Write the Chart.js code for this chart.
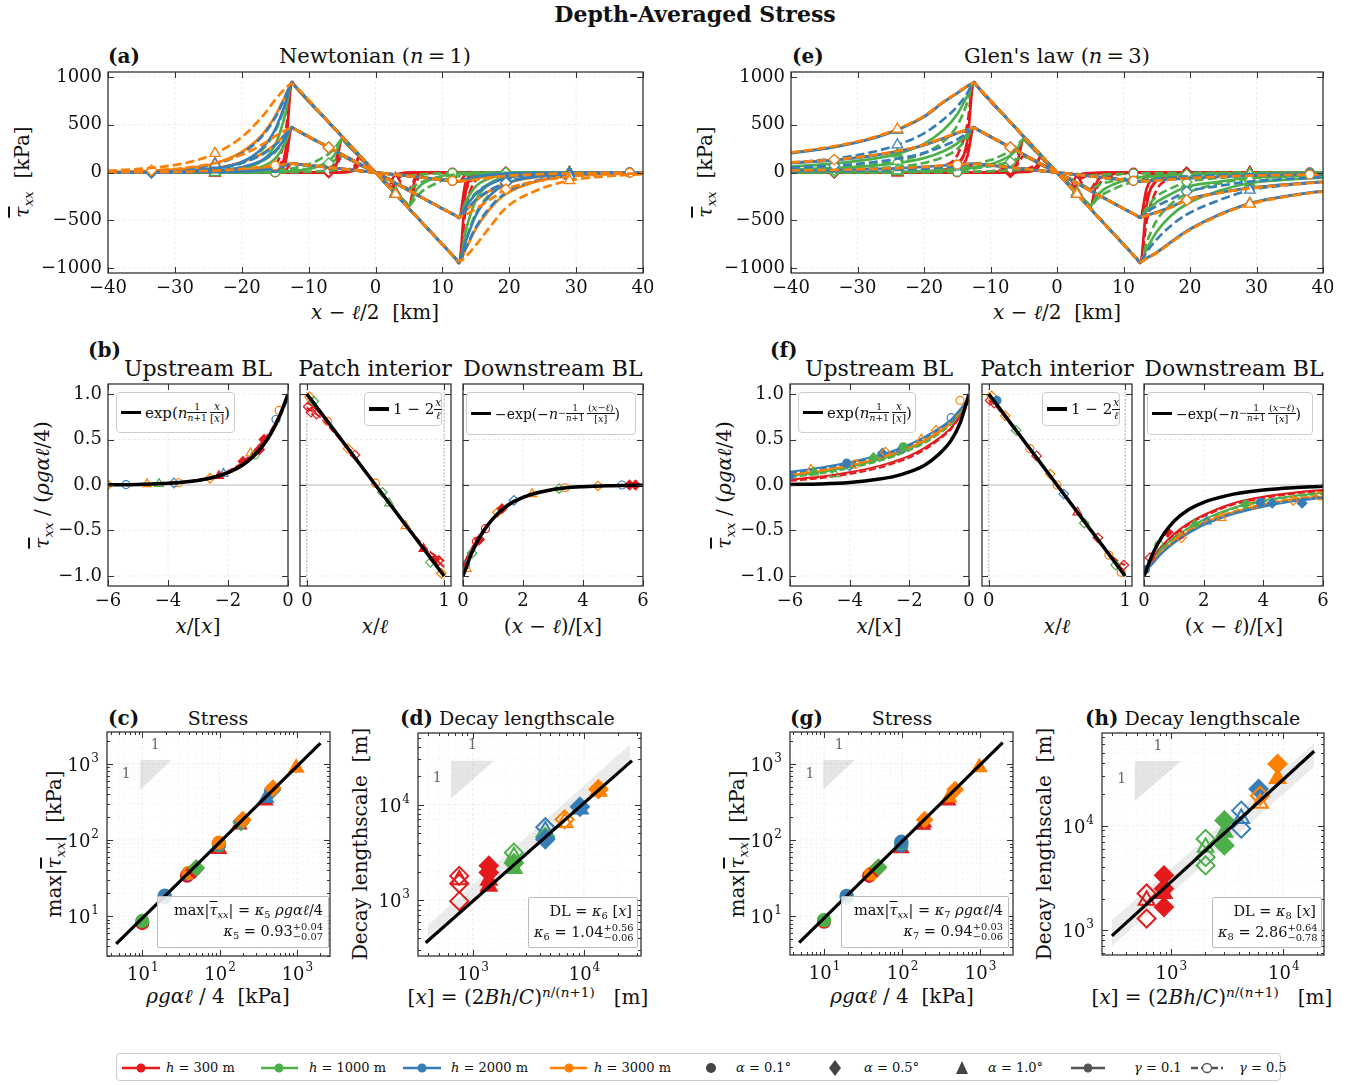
<!DOCTYPE html>
<html>
<head>
<meta charset="utf-8">
<title>Depth-Averaged Stress</title>
<script src="https://cdn.jsdelivr.net/npm/chart.js@4.4.1/dist/chart.umd.min.js"></script>
<style>
  body { margin: 0; background: #fff; }
  #fig { position: relative; width: 1348px; height: 1085px; overflow: hidden; font-family: 'DejaVu Serif', serif; color: #111; }
  canvas { position: absolute; }
  .t { position: absolute; white-space: nowrap; transform: translate(-50%, -50%); line-height: 1; }
  .tl { position: absolute; white-space: nowrap; transform: translateY(-50%); line-height: 1; }
  .rot { transform: translate(-50%, -50%) rotate(-90deg); }
  .pl { font-weight: bold; font-size: 20px; }
  .ttl { font-size: 21px; }
  .sub { font-size: 22px; }
  .lab { font-size: 20px; }
  .ov { text-decoration: overline; }
  sub { font-size: 0.68em; vertical-align: -0.3em; line-height: 0; }
  sup { font-size: 0.68em; vertical-align: 0.5em; line-height: 0; }
  .fr { display: inline-flex; flex-direction: column; vertical-align: middle; text-align: center; line-height: 1.05; font-size: 0.7em; }
  sup .fr { font-size: 0.9em; }
  .fr > span:first-child { border-bottom: 1px solid currentColor; padding: 0 1px; }
  .leg { position: absolute; background: #fff; border: 1px solid #ccc; border-radius: 4px; font-size: 15px; display: flex; align-items: center; padding: 0 4px; box-sizing: border-box; white-space: nowrap; }
  .leg .ln { display: inline-block; width: 20px; height: 3.5px; background: #000; margin-right: 4px; flex: none; }
  .fitbox { position: absolute; background: rgba(255,255,255,0.85); border: 1px solid #bbb; border-radius: 2px; font-size: 14.5px; text-align: right; padding: 3px 5px; box-sizing: border-box; line-height: 1.45; white-space: nowrap; }
  .ss { display: inline-flex; flex-direction: column; vertical-align: middle; font-size: 0.68em; line-height: 1.0; text-align: left; }
  #legend { position: absolute; left: 116px; top: 1053px; width: 1165px; height: 28px; border: 1px solid #ccc; border-radius: 4px; box-sizing: border-box; }
  .lt { position: absolute; top: 1067px; transform: translateY(-50%); font-size: 13px; white-space: nowrap; line-height: 1; }
</style>
</head>
<body>
<div id="fig">
  <div class="t" style="left:695px;top:14px;font-weight:bold;font-size:22px">Depth-Averaged Stress</div>

  <!-- (a) / (e) -->
  <div class="tl pl" style="left:108px;top:56px">(a)</div>
  <div class="t ttl" style="left:375px;top:56px">Newtonian (<i>n</i>&#8201;=&#8201;1)</div>
  <div class="t lab rot" style="left:22px;top:172px"><i class="ov">τ</i><sub><i>xx</i></sub>&nbsp;&nbsp;[kPa]</div>
  <div class="t lab" style="left:375px;top:312px"><i>x</i> − <i>ℓ</i>/2&nbsp;&nbsp;[km]</div>

  <div class="tl pl" style="left:792px;top:56px">(e)</div>
  <div class="t ttl" style="left:1057px;top:56px">Glen's law (<i>n</i>&#8201;=&#8201;3)</div>
  <div class="t lab rot" style="left:705px;top:172px"><i class="ov">τ</i><sub><i>xx</i></sub>&nbsp;&nbsp;[kPa]</div>
  <div class="t lab" style="left:1057px;top:312px"><i>x</i> − <i>ℓ</i>/2&nbsp;&nbsp;[km]</div>

  <!-- (b) / (f) -->
  <div class="tl pl" style="left:88px;top:350px">(b)</div>
  <div class="t sub" style="left:198px;top:369px">Upstream BL</div>
  <div class="t sub" style="left:375px;top:369px">Patch interior</div>
  <div class="t sub" style="left:553px;top:369px">Downstream BL</div>
  <div class="t lab rot" style="left:42px;top:485px"><i class="ov">τ</i><sub><i>xx</i></sub> / (<i>ρgαℓ</i>/4)</div>
  <div class="t lab" style="left:198px;top:626px"><i>x</i>/[<i>x</i>]</div>
  <div class="t lab" style="left:375px;top:626px"><i>x</i>/<i>ℓ</i></div>
  <div class="t lab" style="left:553px;top:626px">(<i>x</i> − <i>ℓ</i>)/[<i>x</i>]</div>

  <div class="tl pl" style="left:770px;top:350px">(f)</div>
  <div class="t sub" style="left:879px;top:369px">Upstream BL</div>
  <div class="t sub" style="left:1057px;top:369px">Patch interior</div>
  <div class="t sub" style="left:1234px;top:369px">Downstream BL</div>
  <div class="t lab rot" style="left:724px;top:485px"><i class="ov">τ</i><sub><i>xx</i></sub> / (<i>ρgαℓ</i>/4)</div>
  <div class="t lab" style="left:879px;top:626px"><i>x</i>/[<i>x</i>]</div>
  <div class="t lab" style="left:1057px;top:626px"><i>x</i>/<i>ℓ</i></div>
  <div class="t lab" style="left:1234px;top:626px">(<i>x</i> − <i>ℓ</i>)/[<i>x</i>]</div>

  <!-- (c) (d) (g) (h) -->
  <div class="tl pl" style="left:108px;top:718px">(c)</div>
  <div class="t ttl" style="left:218px;top:718px;font-size:19px">Stress</div>
  <div class="tl" style="left:400px;top:718px;font-size:19px"><b style="font-size:20px">(d)</b> Decay lengthscale</div>
  <div class="tl pl" style="left:790px;top:718px">(g)</div>
  <div class="t ttl" style="left:902px;top:718px;font-size:19px">Stress</div>
  <div class="tl" style="left:1085px;top:718px;font-size:19px"><b style="font-size:20px">(h)</b> Decay lengthscale</div>

  <div class="t lab rot" style="left:54px;top:844px">max|<i class="ov">τ</i><sub><i>xx</i></sub>|&nbsp;&nbsp;[kPa]</div>
  <div class="t lab rot" style="left:360px;top:844px">Decay lengthscale&nbsp;&nbsp;[m]</div>
  <div class="t lab rot" style="left:737px;top:844px">max|<i class="ov">τ</i><sub><i>xx</i></sub>|&nbsp;&nbsp;[kPa]</div>
  <div class="t lab rot" style="left:1044px;top:844px">Decay lengthscale&nbsp;&nbsp;[m]</div>

  <div class="t lab" style="left:218px;top:996px"><i>ρgαℓ</i> / 4&nbsp;&nbsp;[kPa]</div>
  <div class="t lab" style="left:528px;top:997px">[<i>x</i>] = (2<i>Bh</i>/<i>C</i>)<sup><i>n</i>/(<i>n</i>+1)</sup>&nbsp;&nbsp;&nbsp;[m]</div>
  <div class="t lab" style="left:902px;top:996px"><i>ρgαℓ</i> / 4&nbsp;&nbsp;[kPa]</div>
  <div class="t lab" style="left:1212px;top:997px">[<i>x</i>] = (2<i>Bh</i>/<i>C</i>)<sup><i>n</i>/(<i>n</i>+1)</sup>&nbsp;&nbsp;&nbsp;[m]</div>
</div>

<script>
// ─── COLOURS / MARKERS ───────────────────────────────
const COL = { r: '#e41a1c', g: '#4daf4a', b: '#377eb8', o: '#ff7f00' };
const SHAPE = { c: 'circle', d: 'rectRot', t: 'triangle' };
const drawOrder = ['RS', 'RD', 'GS', 'GD', 'OS', 'BS', 'BD', 'OD'];   // bottom → top

// ─── TICKS ───────────────────────────────────────────
const aXTicks = [-40, -30, -20, -10, 0, 10, 20, 30, 40];
const aYTicks = [-1000, -500, 0, 500, 1000];
const bYTicks = [-1, -0.5, 0, 0.5, 1];
const upXTicks = [-6, -4, -2, 0];
const inXTicks = [0, 1];
const dnXTicks = [0, 2, 4, 6];

// ─── (a)/(e) STRESS PROFILES, x − ℓ/2 [km] ───────────
const x25 = [-40, -33.5, -28, -24, -20, -17, -15, -13.5, -12.5, -12, -7, 3, 11.5, 12, 12.5, 13.5, 15, 17, 19.5, 24, 29, 33.5, 38, 40];
const x10 = [-40, -33.5, -24, -15, -10, -8, -7, -6, -5, -4.6, 3, 4.6, 5, 6, 7, 8, 10, 11.5, 19.5, 29, 38, 40];
const x5 = [-40, -33.5, -24, -15, -7, -5, -4, -3, -2.5, -2.2, 2.2, 2.5, 3, 4, 5, 7, 11.5, 19.5, 29, 38, 40];
const markA1 = [-24, 3, 29];
const markA05 = [-33.5, -7, 19.5];
const markA01 = [-15, 11.5, 38];
const keys8 = ['OD', 'OS', 'BD', 'BS', 'GD', 'GS', 'RD', 'RS'];

// Newtonian (a)
const a25_a1 = [
  [18, 48, 105, 200, 370, 580, 760, 880, 928, 902, 526, -226, -865, -902, -928, -880, -760, -580, -370, -190, -85, -45, -24, -18],
  [6, 17, 44, 95, 215, 390, 590, 800, 935, 902, 526, -226, -865, -902, -935, -800, -590, -390, -225, -95, -38, -17, -8, -6],
  [5, 14, 38, 88, 200, 375, 575, 790, 935, 902, 526, -226, -865, -902, -935, -790, -575, -375, -212, -88, -34, -14, -6, -5],
  [2, 5, 15, 40, 110, 250, 450, 720, 940, 902, 526, -226, -865, -902, -940, -720, -450, -250, -120, -40, -12, -5, -2, -2],
  [1, 4, 13, 35, 100, 235, 430, 705, 945, 902, 526, -226, -865, -902, -945, -705, -430, -235, -110, -35, -10, -4, -1, -1],
  [0, 1, 4, 12, 40, 120, 290, 610, 945, 902, 526, -226, -865, -902, -945, -610, -290, -120, -48, -12, -3, -1, 0, 0],
  [0, 0, 0, 0, 3, 15, 80, 380, 950, 902, 526, -226, -865, -902, -950, -380, -80, -15, -4, 0, 0, 0, 0, 0],
  [0, 0, 0, 0, 0, 4, 25, 200, 950, 902, 526, -226, -865, -902, -950, -200, -25, -4, 0, 0, 0, 0, 0, 0]
];
const a25_a05 = [
  [9, 24, 52, 100, 185, 290, 380, 440, 464, 451, 263, -113, -433, -451, -464, -440, -380, -290, -175, -95, -42, -22, -12, -9],
  [3, 9, 22, 48, 108, 195, 295, 400, 468, 451, 263, -113, -433, -451, -468, -400, -295, -195, -112, -48, -19, -9, -4, -3],
  [3, 7, 19, 44, 100, 188, 288, 395, 468, 451, 263, -113, -433, -451, -468, -395, -288, -188, -106, -44, -17, -7, -3, -3],
  [1, 3, 8, 20, 55, 125, 225, 360, 470, 451, 263, -113, -433, -451, -470, -360, -225, -125, -60, -20, -6, -3, -1, -1],
  [1, 2, 7, 18, 50, 118, 215, 352, 472, 451, 263, -113, -433, -451, -472, -352, -215, -118, -55, -18, -5, -2, -1, -1],
  [0, 1, 2, 6, 20, 60, 145, 305, 472, 451, 263, -113, -433, -451, -472, -305, -145, -60, -24, -6, -2, -1, 0, 0],
  [0, 0, 0, 0, 2, 8, 40, 190, 475, 451, 263, -113, -433, -451, -475, -190, -40, -8, -2, 0, 0, 0, 0, 0],
  [0, 0, 0, 0, 0, 2, 12, 100, 475, 451, 263, -113, -433, -451, -475, -100, -12, -2, 0, 0, 0, 0, 0, 0]
];
const a25_a01_keys = ['OD', 'OS', 'BS', 'GD', 'RS'];
const a25_a01 = [
  [2, 5, 10, 20, 37, 58, 72, 86, 92, 90, 53, -23, -87, -90, -92, -86, -74, -58, -36, -19, -9, -5, -2, -2],
  [1, 2, 4, 10, 22, 39, 59, 80, 94, 90, 53, -23, -87, -90, -94, -80, -59, -39, -22, -10, -4, -2, -1, -1],
  [0, 1, 2, 4, 11, 25, 45, 72, 94, 90, 53, -23, -87, -90, -94, -72, -45, -25, -12, -4, -1, 0, 0, 0],
  [0, 0, 1, 3, 10, 23, 43, 70, 94, 90, 53, -23, -87, -90, -94, -70, -43, -23, -11, -3, -1, 0, 0, 0],
  [0, 0, 0, 0, 0, 0, 3, 20, 95, 90, 53, -23, -87, -90, -95, -20, -3, 0, 0, 0, 0, 0, 0, 0]
];
const a10_a1_keys = ['GD', 'GS', 'RD', 'RS'];
const a10_a1 = [
  [0, 0, 1, 20, 85, 150, 195, 265, 345, 322, -210, -322, -345, -265, -195, -150, -85, -50, -4, 0, 0, 0],
  [0, 0, 0, 5, 35, 80, 120, 195, 348, 322, -210, -322, -348, -195, -120, -80, -35, -15, 0, 0, 0, 0],
  [0, 0, 0, 0, 1, 8, 25, 110, 350, 322, -210, -322, -350, -110, -25, -8, -1, 0, 0, 0, 0, 0],
  [0, 0, 0, 0, 0, 2, 8, 50, 352, 322, -210, -322, -352, -50, -8, -2, 0, 0, 0, 0, 0, 0]
];
const a10_a05_keys = ['GD', 'RD'];
const a10_a05 = [
  [0, 0, 0, 10, 42, 75, 98, 132, 173, 161, -105, -161, -173, -132, -98, -75, -42, -25, -2, 0, 0, 0],
  [0, 0, 0, 0, 0, 4, 12, 55, 175, 161, -105, -161, -175, -55, -12, -4, 0, 0, 0, 0, 0, 0]
];
const a10_a01_keys = ['GD', 'RD'];
const a10_a01 = [
  [0, 0, 0, 2, 8, 15, 20, 27, 35, 32, -21, -32, -35, -27, -20, -15, -8, -5, 0, 0, 0, 0],
  [0, 0, 0, 0, 0, 1, 2, 11, 35, 32, -21, -32, -35, -11, -2, -1, 0, 0, 0, 0, 0, 0]
];
const a5_a1_keys = ['RD', 'RS'];
const a5_a1 = [
  [0, 0, 0, 0, 2, 10, 30, 85, 165, 145, -145, -165, -85, -30, -10, -2, 0, 0, 0, 0, 0],
  [0, 0, 0, 0, 0, 3, 12, 60, 167, 145, -145, -167, -60, -12, -3, 0, 0, 0, 0, 0, 0]
];
const a5_a05_keys = ['RS'];
const a5_a05 = [
  [0, 0, 0, 0, 0, 2, 6, 30, 83, 73, -73, -83, -30, -6, -2, 0, 0, 0, 0, 0, 0]
];

// Glen's law (e)
const e25_a1 = [
  [210, 275, 360, 455, 590, 745, 835, 905, 935, 902, 526, -226, -865, -902, -935, -900, -840, -740, -620, -460, -330, -265, -215, -200],
  [205, 270, 355, 450, 586, 742, 832, 903, 937, 902, 526, -226, -865, -902, -937, -897, -838, -738, -616, -456, -326, -262, -212, -198],
  [100, 145, 210, 290, 410, 560, 690, 830, 938, 902, 526, -226, -865, -902, -938, -830, -700, -565, -440, -300, -185, -140, -110, -100],
  [200, 265, 350, 445, 582, 738, 830, 902, 938, 902, 526, -226, -865, -902, -938, -895, -835, -735, -612, -452, -322, -258, -210, -195],
  [30, 50, 80, 120, 200, 330, 490, 730, 942, 902, 526, -226, -865, -902, -942, -730, -500, -340, -220, -120, -65, -45, -32, -30],
  [60, 95, 140, 195, 300, 450, 610, 800, 940, 902, 526, -226, -865, -902, -940, -800, -620, -460, -330, -200, -110, -80, -60, -55],
  [0, 1, 3, 8, 25, 70, 180, 500, 950, 902, 526, -226, -865, -902, -950, -500, -180, -70, -30, -10, -3, -1, 0, 0],
  [0, 0, 1, 3, 10, 30, 80, 330, 950, 902, 526, -226, -865, -902, -950, -330, -80, -30, -12, -3, -1, 0, 0, 0]
];
const e25_a05 = [
  [105, 135, 178, 225, 290, 365, 415, 450, 468, 451, 263, -113, -433, -451, -468, -450, -420, -370, -290, -220, -165, -135, -110, -100],
  [102, 132, 175, 222, 287, 362, 413, 449, 469, 451, 263, -113, -433, -451, -469, -449, -417, -367, -287, -217, -162, -132, -107, -98],
  [50, 72, 105, 145, 205, 280, 345, 415, 470, 451, 263, -113, -433, -451, -470, -415, -350, -285, -200, -145, -95, -72, -55, -50],
  [100, 130, 172, 220, 285, 360, 412, 448, 470, 451, 263, -113, -433, -451, -470, -448, -415, -365, -285, -215, -160, -130, -105, -97],
  [15, 25, 40, 60, 100, 165, 245, 365, 471, 451, 263, -113, -433, -451, -471, -365, -250, -170, -100, -60, -32, -22, -16, -15],
  [30, 48, 70, 98, 150, 225, 305, 400, 470, 451, 263, -113, -433, -451, -470, -400, -310, -230, -150, -100, -55, -40, -30, -28],
  [0, 0, 1, 4, 12, 35, 90, 250, 475, 451, 263, -113, -433, -451, -475, -250, -90, -35, -12, -4, -1, 0, 0, 0],
  [0, 0, 0, 1, 5, 15, 40, 165, 475, 451, 263, -113, -433, -451, -475, -165, -40, -15, -5, -1, 0, 0, 0, 0]
];
const e25_a01_keys = ['OD', 'BD', 'BS', 'GD', 'RS'];
const e25_a01 = [
  [21, 27, 36, 45, 59, 74, 83, 90, 93, 90, 53, -23, -87, -90, -93, -90, -84, -74, -62, -46, -33, -27, -22, -20],
  [10, 14, 21, 29, 41, 56, 69, 83, 94, 90, 53, -23, -87, -90, -94, -83, -70, -57, -44, -30, -19, -14, -11, -10],
  [20, 26, 35, 44, 58, 73, 83, 90, 94, 90, 53, -23, -87, -90, -94, -90, -84, -73, -61, -45, -32, -26, -21, -19],
  [3, 5, 8, 12, 20, 33, 49, 73, 94, 90, 53, -23, -87, -90, -94, -73, -50, -34, -22, -12, -6, -4, -3, -3],
  [0, 0, 0, 0, 1, 3, 8, 33, 95, 90, 53, -23, -87, -90, -95, -33, -8, -3, -1, 0, 0, 0, 0, 0]
];
const e10_a1_keys = ['GD', 'GS', 'RD', 'RS'];
const e10_a1 = [
  [5, 8, 18, 55, 130, 190, 225, 280, 348, 322, -210, -322, -348, -280, -225, -190, -130, -100, -40, -18, -8, -5],
  [2, 3, 8, 30, 85, 140, 180, 245, 350, 322, -210, -322, -350, -245, -180, -140, -85, -60, -20, -8, -3, -2],
  [0, 0, 0, 2, 12, 40, 75, 160, 352, 322, -210, -322, -352, -160, -75, -40, -12, -5, -1, 0, 0, 0],
  [0, 0, 0, 1, 5, 15, 35, 100, 352, 322, -210, -322, -352, -100, -35, -15, -5, -2, 0, 0, 0, 0]
];
const e10_a05_keys = ['GD', 'RD'];
const e10_a05 = [
  [3, 4, 9, 28, 65, 95, 112, 140, 174, 161, -105, -161, -174, -140, -112, -95, -65, -50, -20, -9, -4, -3],
  [0, 0, 0, 1, 6, 20, 38, 80, 175, 161, -105, -161, -175, -80, -38, -20, -6, -2, 0, 0, 0, 0]
];
const e10_a01_keys = ['GD', 'RD'];
const e10_a01 = [
  [1, 1, 2, 6, 13, 19, 22, 28, 35, 32, -21, -32, -35, -28, -22, -19, -13, -10, -4, -2, -1, -1],
  [0, 0, 0, 0, 1, 4, 8, 16, 35, 32, -21, -32, -35, -16, -8, -4, -1, 0, 0, 0, 0, 0]
];
const e5_a1_keys = ['RD', 'RS'];
const e5_a1 = [
  [0, 0, 0, 0, 8, 25, 50, 100, 165, 145, -145, -165, -100, -50, -25, -8, -2, 0, 0, 0, 0],
  [0, 0, 0, 0, 3, 12, 28, 75, 167, 145, -145, -167, -75, -28, -12, -3, 0, 0, 0, 0, 0]
];
const e5_a05_keys = ['RS'];
const e5_a05 = [
  [0, 0, 0, 0, 1, 5, 12, 38, 83, 73, -73, -83, -38, -12, -5, -1, 0, 0, 0, 0, 0]
];

// ─── (b)/(f) NORMALISED PROFILES ─────────────────────
const upX = [-6, -5, -4, -3, -2.5, -2, -1.5, -1, -0.6, -0.3, 0];
const inX = [0, 0.03, 0.1, 0.5, 0.9, 0.97, 1];
const dnX = [0, 0.3, 0.6, 1, 1.5, 2, 3, 4, 5, 6];
const inLineX = [0, 1];
const inLineY = [1, -1];

const bUpBlack = [0.0025, 0.0067, 0.018, 0.05, 0.082, 0.135, 0.223, 0.368, 0.549, 0.741, 1.0];
const bUpKeys = ['OD', 'OS', 'BD', 'GS', 'RS', 'RD'];
const bUp = [
  [0.002, 0.006, 0.016, 0.046, 0.078, 0.128, 0.212, 0.352, 0.532, 0.725, 0.96],
  [0.002, 0.006, 0.017, 0.049, 0.08, 0.13, 0.218, 0.36, 0.54, 0.735, 0.97],
  [0.002, 0.006, 0.017, 0.048, 0.08, 0.132, 0.218, 0.36, 0.54, 0.73, 0.95],
  [0.003, 0.007, 0.019, 0.052, 0.086, 0.14, 0.232, 0.38, 0.56, 0.75, 0.99],
  [0.003, 0.007, 0.02, 0.054, 0.088, 0.145, 0.24, 0.4, 0.57, 0.755, 0.99],
  [0.003, 0.008, 0.021, 0.056, 0.092, 0.152, 0.255, 0.42, 0.585, 0.76, 0.98]
];
const bUpMx = [-6, -5.4, -4.7, -4.3, -3.8, -3.65, -2.6, -2.3, -2.15, -1.5, -1.25, -1.1, -0.95, -0.8, -0.4, -0.3];
const bUpMy = [0.003, 0.005, 0.01, 0.013, 0.022, 0.025, 0.074, 0.1, 0.125, 0.26, 0.35, 0.33, 0.39, 0.5, 0.72, 0.82];
const bUpMc = ['o', 'b', 'o', 'g', 'b', 'o', 'o', 'r', 'b', 'r', 'o', 'g', 'r', 'r', 'b', 'o'];
const bUpMs = ['d', 'c', 't', 't', 'd', 'c', 'd', 't', 't', 'd', 't', 'c', 'd', 'd', 'c', 'c'];
const bUpMf = [0, 0, 0, 0, 0, 0, 0, 1, 0, 1, 0, 0, 1, 1, 0, 0];

const bInKeys = ['OD', 'BS', 'GD', 'RS', 'RD'];
const bIn = [
  [0.98, 0.94, 0.8, 0.0, -0.8, -0.94, -0.98],
  [0.99, 0.95, 0.8, 0.0, -0.8, -0.95, -0.99],
  [0.99, 0.95, 0.81, 0.01, -0.79, -0.93, -0.96],
  [0.9, 0.88, 0.78, 0.0, -0.78, -0.86, -0.9],
  [0.85, 0.82, 0.74, 0.0, -0.74, -0.8, -0.84]
];
const bInMx = [0.01, 0.02, 0.03, 0.05, 0.07, 0.15, 0.3, 0.35, 0.5, 0.55, 0.6, 0.72, 0.85, 0.9, 0.93, 0.96, 0.98];
const bInMy = [0.86, 0.97, 0.8, 0.92, 0.78, 0.7, 0.4, 0.33, 0.02, -0.08, -0.2, -0.45, -0.7, -0.85, -0.82, -0.83, -0.97];
const bInMc = ['r', 'o', 'r', 'g', 'r', 'o', 'o', 'r', 'o', 'g', 'g', 'o', 'r', 'g', 'r', 'r', 'o'];
const bInMs = ['d', 'd', 'd', 'd', 'd', 'c', 'd', 'd', 'c', 'd', 't', 't', 't', 'd', 'd', 'd', 'd'];
const bInMf = [0, 0, 0, 0, 0, 0, 0, 0, 0, 0, 0, 0, 1, 0, 1, 0, 0];

const bDnBlack = [-1, -0.74, -0.55, -0.37, -0.22, -0.135, -0.05, -0.018, -0.007, -0.0025];
const bDnKeys = ['OD', 'BS', 'GD', 'RS', 'RD'];
const bDn = [
  [-0.97, -0.76, -0.56, -0.38, -0.23, -0.14, -0.055, -0.02, -0.008, -0.003],
  [-0.95, -0.74, -0.55, -0.37, -0.22, -0.135, -0.05, -0.018, -0.007, -0.003],
  [-0.93, -0.73, -0.55, -0.37, -0.23, -0.14, -0.052, -0.02, -0.007, -0.003],
  [-0.88, -0.69, -0.53, -0.37, -0.23, -0.14, -0.052, -0.02, -0.008, -0.003],
  [-0.9, -0.7, -0.53, -0.36, -0.22, -0.13, -0.05, -0.02, -0.008, -0.003]
];
const bDnMx = [0.08, 0.12, 0.3, 0.45, 0.55, 0.75, 1.15, 1.3, 1.7, 2.3, 3.2, 3.4, 4.5, 5.3, 5.55, 5.75];
const bDnMy = [-0.88, -0.92, -0.75, -0.62, -0.6, -0.48, -0.3, -0.26, -0.17, -0.1, -0.04, -0.03, -0.01, 0, 0, 0];
const bDnMc = ['b', 'o', 'g', 'r', 'r', 'r', 'o', 'r', 'b', 'o', 'g', 'o', 'o', 'b', 'r', 'r'];
const bDnMs = ['c', 't', 'd', 'c', 'd', 'c', 'd', 'd', 'd', 't', 'd', 'c', 'd', 'c', 'd', 'd'];
const bDnMf = [0, 0, 0, 0, 1, 0, 0, 1, 0, 0, 0, 0, 0, 0, 1, 1];

const fUpBlack = [0.006, 0.012, 0.028, 0.065, 0.095, 0.145, 0.215, 0.34, 0.49, 0.68, 1.0];
const fUpKeys = ['RD', 'RS', 'GD', 'GS', 'OS', 'OD', 'BD', 'BS'];
const fUp = [
  [0.045, 0.075, 0.12, 0.19, 0.24, 0.3, 0.385, 0.5, 0.615, 0.755, 0.93],
  [0.06, 0.09, 0.14, 0.21, 0.26, 0.32, 0.405, 0.515, 0.63, 0.765, 0.94],
  [0.085, 0.125, 0.185, 0.265, 0.315, 0.38, 0.46, 0.565, 0.67, 0.79, 0.945],
  [0.1, 0.14, 0.2, 0.28, 0.33, 0.395, 0.475, 0.58, 0.68, 0.8, 0.95],
  [0.11, 0.155, 0.215, 0.295, 0.345, 0.41, 0.49, 0.59, 0.69, 0.81, 0.95],
  [0.125, 0.17, 0.23, 0.31, 0.36, 0.425, 0.505, 0.605, 0.7, 0.815, 0.95],
  [0.135, 0.18, 0.24, 0.32, 0.37, 0.435, 0.515, 0.615, 0.71, 0.82, 0.95],
  [0.145, 0.19, 0.25, 0.33, 0.38, 0.445, 0.525, 0.625, 0.72, 0.83, 0.96]
];
const fUpMx = [-6, -5.3, -5.2, -4.5, -4.1, -4.0, -3.8, -3.2, -2.9, -2.8, -2.3, -2.2, -1.6, -1.1, -0.6, -0.3];
const fUpMy = [0.1, 0.17, 0.14, 0.12, 0.24, 0.21, 0.23, 0.3, 0.35, 0.36, 0.39, 0.42, 0.5, 0.6, 0.74, 0.93];
const fUpMc = ['b', 'o', 'g', 'g', 'b', 'b', 'o', 'g', 'b', 'o', 'b', 'g', 'o', 'o', 'b', 'o'];
const fUpMs = ['d', 't', 't', 't', 'c', 'd', 'c', 'd', 'd', 'd', 't', 'c', 't', 'd', 'c', 'c'];
const fUpMf = [1, 0, 1, 0, 1, 0, 0, 1, 1, 0, 0, 1, 0, 0, 0, 0];

const fInKeys = ['OD', 'BD', 'GS', 'RD'];
const fIn = [
  [0.98, 0.94, 0.8, 0.0, -0.8, -0.94, -0.98],
  [0.97, 0.93, 0.79, 0.0, -0.79, -0.93, -0.97],
  [0.99, 0.95, 0.81, 0.01, -0.8, -0.94, -0.97],
  [0.93, 0.9, 0.78, 0.0, -0.78, -0.86, -0.88]
];
const fInMx = [0.01, 0.02, 0.04, 0.06, 0.12, 0.2, 0.3, 0.35, 0.45, 0.5, 0.55, 0.65, 0.7, 0.8, 0.88, 0.93, 0.97, 0.99];
const fInMy = [0.93, 0.98, 0.9, 0.93, 0.76, 0.6, 0.4, 0.32, 0.12, 0.0, -0.1, -0.3, -0.42, -0.58, -0.77, -0.88, -0.96, -0.88];
const fInMc = ['r', 'o', 'r', 'b', 'o', 'g', 'o', 'r', 'o', 'o', 'b', 'r', 'g', 'r', 'o', 'g', 'o', 'r'];
const fInMs = ['d', 'd', 'd', 'c', 'd', 'd', 'c', 'd', 'd', 'c', 'd', 't', 'd', 'd', 'c', 'd', 'c', 'd'];
const fInMf = [0, 0, 0, 1, 0, 0, 0, 0, 0, 0, 0, 0, 0, 0, 0, 0, 0, 0];

const fDnBlack = [-1, -0.75, -0.57, -0.4, -0.27, -0.19, -0.1, -0.055, -0.03, -0.015];
const fDnKeys = ['RS', 'RD', 'GS', 'GD', 'OD', 'OS', 'BD', 'BS'];
const fDn = [
  [-0.95, -0.8, -0.67, -0.54, -0.42, -0.33, -0.2, -0.13, -0.085, -0.055],
  [-0.95, -0.81, -0.68, -0.555, -0.435, -0.345, -0.215, -0.145, -0.095, -0.065],
  [-0.95, -0.82, -0.7, -0.58, -0.47, -0.38, -0.25, -0.17, -0.12, -0.085],
  [-0.96, -0.83, -0.71, -0.59, -0.48, -0.39, -0.26, -0.18, -0.13, -0.095],
  [-0.96, -0.84, -0.73, -0.61, -0.5, -0.41, -0.29, -0.21, -0.15, -0.115],
  [-0.96, -0.845, -0.735, -0.62, -0.51, -0.42, -0.3, -0.22, -0.16, -0.125],
  [-0.97, -0.855, -0.745, -0.63, -0.52, -0.43, -0.31, -0.23, -0.17, -0.13],
  [-0.97, -0.86, -0.75, -0.64, -0.53, -0.44, -0.32, -0.24, -0.18, -0.14]
];
const fDnMx = [0.05, 0.2, 0.5, 0.8, 1.2, 1.25, 1.7, 2.1, 2.6, 3.4, 3.7, 3.9, 4.3, 5.0, 5.3, 5.9];
const fDnMy = [-0.93, -0.8, -0.66, -0.52, -0.55, -0.58, -0.43, -0.4, -0.36, -0.21, -0.22, -0.19, -0.2, -0.17, -0.2, -0.12];
const fDnMc = ['b', 'r', 'g', 'r', 'r', 'o', 'g', 'b', 'o', 'g', 'o', 'b', 'b', 'o', 'b', 'o'];
const fDnMs = ['c', 'd', 'c', 'd', 'c', 'd', 't', 't', 't', 'd', 'c', 'c', 'd', 'd', 'd', 'c'];
const fDnMf = [1, 0, 0, 1, 0, 0, 1, 0, 0, 1, 0, 1, 1, 0, 1, 0];

// ─── (c)/(g) PEAK STRESS ─────────────────────────────
const cX = [10, 10, 19.5, 19.5, 38, 39, 40, 47, 50, 98, 98, 98, 98, 180, 190, 195, 200, 390, 400, 480, 490, 980];
const cY = [8.1, 8.6, 17.5, 18.5, 34, 36, 37, 40, 43, 76, 85, 88, 92, 160, 170, 180, 185, 330, 355, 450, 480, 890];
const cC = ['r', 'g', 'g', 'b', 'r', 'b', 'o', 'r', 'g', 'r', 'g', 'b', 'o', 'r', 'g', 'b', 'o', 'r', 'b', 'b', 'o', 'o'];
const cS = ['c', 'c', 'c', 'c', 'c', 'c', 'c', 'd', 'd', 't', 'c', 'c', 'c', 't', 'd', 'd', 'd', 't', 't', 'd', 'd', 't'];
const cFitX = [4.6, 2020];
const cFitY = [4.3, 1880];
const cTriX = [9.4, 24, 9.4];
const cTriY = [1130, 1130, 455];
const cOneX = [14.7, 6.2];
const cOneY = [1780, 740];

const gX = [10, 10, 19.5, 19.5, 38, 40, 45, 48, 50, 98, 98, 98, 98, 185, 190, 195, 390, 400, 480, 980];
const gY = [8.5, 8.9, 17.5, 18.5, 34, 36, 40, 42, 44, 78, 85, 92, 95, 158, 170, 185, 330, 360, 460, 900];
const gC = ['r', 'g', 'g', 'b', 'r', 'o', 'o', 'r', 'g', 'r', 'b', 'g', 'b', 'r', 'r', 'o', 'r', 'o', 'o', 'o'];
const gS = ['c', 'c', 'c', 'c', 'c', 'c', 'd', 'd', 'd', 't', 'c', 'c', 'c', 't', 't', 'd', 't', 't', 'd', 't'];
const gFitX = [4.8, 1955];
const gFitY = [4.5, 1900];
const gTriX = [9.8, 25, 9.8];
const gTriY = [1127, 1127, 460];
const gOneX = [15.7, 6.6];
const gOneY = [1760, 720];

// ─── (d)/(h) DECAY LENGTHSCALE ───────────────────────
const dX = [760, 760, 760, 760, 1400, 1400, 1400, 1400, 2350, 2350, 2350, 2350, 4500, 4500, 4500, 4500, 6700, 6700, 9200, 9200, 13500, 13500];
const dY = [1800, 1640, 1500, 980, 2300, 1950, 1620, 1400, 3150, 2850, 2450, 2150, 5800, 5300, 4600, 4350, 7000, 6500, 9500, 9000, 14500, 13800];
const dC = ['r', 'r', 'r', 'r', 'r', 'r', 'r', 'r', 'g', 'g', 'g', 'g', 'b', 'b', 'g', 'b', 'o', 'o', 'b', 'b', 'o', 'o'];
const dS = ['d', 't', 'd', 'd', 'd', 'd', 't', 't', 'd', 't', 'd', 't', 'd', 't', 'd', 'd', 'd', 't', 'd', 't', 'd', 't'];
const dF = [0, 0, 0, 0, 1, 1, 1, 1, 0, 0, 1, 1, 0, 0, 1, 1, 0, 0, 1, 1, 1, 1];
const dFitX = [380, 27000];
const dFitY = [360, 28800];
const dBandX = [396, 26100];
const dBandLo = [400, 27500];
const dBandHi = [550, 42900];
const dTriX = [640, 1560, 640];
const dTriY = [28700, 28700, 11500];
const dOneX = [1000, 481];
const dOneY = [41200, 18800];

const hX = [610, 610, 610, 870, 870, 870, 870, 2040, 2040, 2040, 2040, 3000, 3000, 3000, 4230, 4230, 4230, 6030, 6200, 6200, 8900, 8900];
const hY = [2240, 1930, 1290, 3340, 2490, 2240, 1660, 7460, 6200, 4990, 4160, 11200, 8620, 6460, 13900, 11700, 9350, 22400, 19300, 16400, 38900, 28200];
const hC = ['r', 'r', 'r', 'r', 'r', 'r', 'r', 'g', 'g', 'g', 'g', 'g', 'g', 'g', 'b', 'b', 'b', 'b', 'o', 'o', 'o', 'o'];
const hS = ['d', 't', 'd', 'd', 'd', 't', 'd', 'd', 't', 'd', 'd', 'd', 't', 'd', 'd', 't', 'd', 'd', 'd', 't', 'd', 't'];
const hF = [0, 0, 0, 1, 1, 1, 1, 0, 0, 0, 0, 1, 1, 1, 0, 0, 0, 1, 0, 0, 1, 1];
const hFitX = [300, 18800];
const hFitY = [880, 51500];
const hBandX = [300, 18800];
const hBandLo = [704, 36500];
const hBandHi = [1245, 60800];
const hTriX = [480, 1244, 480];
const hTriY = [41600, 41600, 17300];
const hOneX = [768, 366];
const hOneY = [57800, 27400];

// ─── HELPERS ─────────────────────────────────────────
Chart.defaults.font.family = '"DejaVu Serif", serif';
Chart.defaults.color = '#111';

const pts = (xs, ys) => xs.map((x, i) => ({ x, y: ys[i] }));
const minus = s => String(s).replace('-', '\u2212');

function tickList(s) {
  const lo = Math.min(s.min, s.max), hi = Math.max(s.min, s.max), out = [];
  if (s.type === 'logarithmic') {
    for (let e = Math.floor(Math.log10(lo)); e <= Math.ceil(Math.log10(hi)); e++) {
      for (let k = 1; k < 10; k++) {
        const v = k * Math.pow(10, e);
        if (v > lo && v < hi) out.push({ v, major: k === 1, e });
      }
    }
  } else {
    for (const t of s.ticks) if (t.value >= lo - 1e-9 && t.value <= hi + 1e-9) out.push({ v: t.value, major: true });
  }
  return out;
}

const deco = {
  id: 'deco',
  beforeDatasetsDraw(chart) {
    const { ctx, chartArea: a } = chart;
    ctx.save();
    ctx.setLineDash([2.5, 2.5]);
    ctx.lineWidth = 0.8;
    for (const s of [chart.scales.x, chart.scales.y]) {
      for (const t of tickList(s)) {
        ctx.strokeStyle = t.major ? 'rgba(0,0,0,0.11)' : 'rgba(0,0,0,0.05)';
        const p = s.getPixelForValue(t.v);
        ctx.beginPath();
        if (s.isHorizontal()) { ctx.moveTo(p, a.top); ctx.lineTo(p, a.bottom); }
        else { ctx.moveTo(a.left, p); ctx.lineTo(a.right, p); }
        ctx.stroke();
      }
    }
    ctx.restore();
  },
  afterDatasetsDraw(chart, args, opts) {
    const { ctx, chartArea: a } = chart;
    ctx.save();
    if (opts.oneX) {
      ctx.fillStyle = '#666';
      ctx.font = '14px "DejaVu Serif"';
      ctx.textAlign = 'center';
      ctx.textBaseline = 'middle';
      opts.oneX.forEach((x, i) => ctx.fillText('1', chart.scales.x.getPixelForValue(x), chart.scales.y.getPixelForValue(opts.oneY[i])));
    }
    ctx.strokeStyle = '#333';
    ctx.lineWidth = 1;
    for (const s of [chart.scales.x, chart.scales.y]) {
      for (const t of tickList(s)) {
        const p = Math.round(s.getPixelForValue(t.v)) + 0.5, L = t.major ? 6 : 3;
        ctx.beginPath();
        if (s.isHorizontal()) {
          ctx.moveTo(p, a.bottom); ctx.lineTo(p, a.bottom - L);
          ctx.moveTo(p, a.top); ctx.lineTo(p, a.top + L);
        } else {
          ctx.moveTo(a.left, p); ctx.lineTo(a.left + L, p);
          ctx.moveTo(a.right, p); ctx.lineTo(a.right - L, p);
        }
        ctx.stroke();
      }
    }
    ctx.lineWidth = 1.3;
    ctx.strokeRect(a.left, a.top, a.width, a.height);
    // log tick labels 10^k
    ctx.fillStyle = '#111';
    ctx.textAlign = 'left';
    ctx.textBaseline = 'alphabetic';
    for (const s of [chart.scales.x, chart.scales.y]) {
      if (s.type !== 'logarithmic') continue;
      for (const t of tickList(s)) {
        if (!t.major) continue;
        const p = s.getPixelForValue(t.v);
        ctx.font = '18px "DejaVu Serif"';
        const w1 = ctx.measureText('10').width;
        ctx.font = '12px "DejaVu Serif"';
        const w2 = ctx.measureText(String(t.e)).width;
        let x0, y0;
        if (s.isHorizontal()) { x0 = p - (w1 + w2) / 2; y0 = a.bottom + 24; }
        else { x0 = a.left - 9 - w1 - w2; y0 = p + 7; }
        ctx.font = '18px "DejaVu Serif"';
        ctx.fillText('10', x0, y0);
        ctx.font = '12px "DejaVu Serif"';
        ctx.fillText(String(t.e), x0 + w1 + 1, y0 - 9);
      }
    }
    ctx.restore();
  }
};
Chart.register(deco);

function linAx(min, max, tickVals, fmt, show, pad) {
  return {
    type: 'linear', min, max,
    grid: { display: false, drawTicks: false }, border: { display: false },
    afterBuildTicks: s => { s.ticks = tickVals.map(v => ({ value: v })); },
    ticks: { autoSkip: false, maxRotation: 0, display: show, padding: pad, color: '#111', font: { size: 18 }, callback: fmt }
  };
}
function logAx(min, max) {
  return { type: 'logarithmic', min, max, grid: { display: false, drawTicks: false }, border: { display: false }, ticks: { display: false, autoSkip: false } };
}

function mkChart(box, xAx, yAx, datasets, decoOpts) {
  const padL = 70, padB = 34, padT = 10, padR = 10;
  const [L, T, W, H] = box;
  const cv = document.createElement('canvas');
  const w = W + padL + padR, h = H + padT + padB;
  cv.width = w; cv.height = h;
  cv.style.cssText = `left:${L - padL}px;top:${T - padT}px;width:${w}px;height:${h}px`;
  document.getElementById('fig').appendChild(cv);
  // fixed axis sizes and no label overhang padding, so the plot box lands exactly on `box`
  xAx.afterFit = s => { s.height = padB; s.paddingLeft = 0; s.paddingRight = 0; };
  yAx.afterFit = s => { s.width = padL; s.paddingTop = 0; s.paddingBottom = 0; };
  new Chart(cv, {
    type: 'scatter',
    data: { datasets },
    options: {
      responsive: false, animation: false, events: [],
      layout: { padding: { left: 0, right: padR, top: padT, bottom: 0 } },
      plugins: { legend: { display: false }, tooltip: { enabled: false }, deco: decoOpts || {} },
      scales: { x: xAx, y: yAx }
    }
  });
}

// one dataset per curve, markers at fixed columns (like markevery)
function curveSets(xs, marks, shape, keys, rows) {
  const R = { c: 4.3, d: 5.3, t: 6 };
  return rows.map((ys, i) => {
    const k = keys[i][0].toLowerCase(), dashed = keys[i][1] === 'D', c = COL[k];
    return {
      rank: drawOrder.indexOf(keys[i]),
      data: pts(xs, ys), showLine: true, fill: false,
      borderColor: c, borderWidth: 2.7, borderDash: dashed ? [9, 4] : [],
      cubicInterpolationMode: 'monotone',
      pointStyle: SHAPE[shape], pointRadius: xs.map(x => marks.includes(x) ? R[shape] : 0),
      pointBackgroundColor: dashed ? '#fff' : c, pointBorderColor: c, pointBorderWidth: 1.3
    };
  });
}
function profileSets(groups) {
  const all = [];
  groups.forEach(g => all.push(...curveSets(...g)));
  all.sort((p, q) => p.rank - q.rank);
  return all.reverse();           // first dataset is drawn on top
}

function lineSet(xs, ys, color, dashed, lw, dash) {
  return {
    data: pts(xs, ys), showLine: true, fill: false, borderColor: color, borderWidth: lw,
    borderDash: dashed ? (dash || [7, 3]) : [], pointRadius: 0, cubicInterpolationMode: 'monotone'
  };
}
function keyedLines(xs, keys, rows, lw) {
  return rows.map((ys, i) => lineSet(xs, ys, COL[keys[i][0].toLowerCase()], keys[i][1] === 'D', lw));
}
function markSet(xs, ys, cs, ss, fs, R, bw) {
  return {
    data: pts(xs, ys), showLine: false,
    pointStyle: ss.map(s => SHAPE[s]), pointRadius: ss.map(s => R[s]),
    pointBorderColor: cs.map(c => COL[c]),
    pointBackgroundColor: cs.map((c, i) => (!fs || fs[i]) ? COL[c] : 'rgba(255,255,255,0)'),
    pointBorderWidth: bw
  };
}
function polySet(xs, ys, color) {
  return { data: pts(xs, ys), showLine: true, borderWidth: 0, pointRadius: 0, fill: 'shape', backgroundColor: color, tension: 0 };
}

// ─── (a) / (e) ───────────────────────────────────────
const fmtInt = v => minus(v);
const fmt1 = v => minus(v.toFixed(1));

mkChart([108, 72, 535, 201],
  linAx(-40, 40, aXTicks, fmtInt, true, 5), linAx(-1052, 1052, aYTicks, fmtInt, true, 6),
  profileSets([
    [x25, markA01, 'c', a25_a01_keys, a25_a01],
    [x10, markA01, 'c', a10_a01_keys, a10_a01],
    [x5, markA05, 'd', a5_a05_keys, a5_a05],
    [x10, markA05, 'd', a10_a05_keys, a10_a05],
    [x25, markA05, 'd', keys8, a25_a05],
    [x5, markA1, 't', a5_a1_keys, a5_a1],
    [x10, markA1, 't', a10_a1_keys, a10_a1],
    [x25, markA1, 't', keys8, a25_a1]
  ]));

mkChart([791, 72, 532, 201],
  linAx(-40, 40, aXTicks, fmtInt, true, 5), linAx(-1052, 1052, aYTicks, fmtInt, true, 6),
  profileSets([
    [x25, markA01, 'c', e25_a01_keys, e25_a01],
    [x10, markA01, 'c', e10_a01_keys, e10_a01],
    [x5, markA05, 'd', e5_a05_keys, e5_a05],
    [x10, markA05, 'd', e10_a05_keys, e10_a05],
    [x25, markA05, 'd', keys8, e25_a05],
    [x5, markA1, 't', e5_a1_keys, e5_a1],
    [x10, markA1, 't', e10_a1_keys, e10_a1],
    [x25, markA1, 't', keys8, e25_a1]
  ]));

// ─── (b) / (f) ───────────────────────────────────────
const RB = { c: 4, d: 4.8, t: 5.2 };
const upLim = [-6, 0], inLim = [-0.05, 1.05], dnLim = [0, 6], zero2 = [0, 0], yLim = [-1.11, 1.11];

function bPanels(left, mid, right, up, upBlack, upKeys, inn, inKeys, dn, dnBlack, dnKeys, mU, mI, mD) {
  mkChart([left[0], 384, left[1], 202], linAx(upLim[0], upLim[1], upXTicks, fmtInt, true, 5), linAx(yLim[0], yLim[1], bYTicks, fmt1, true, 6), [
    lineSet(upX, upBlack, '#000', false, 3.5),
    markSet(...mU, RB, 1.2),
    ...keyedLines(upX, upKeys, up, 2).reverse(),
    lineSet(upLim, zero2, '#d0d0d0', false, 1.3)
  ]);
  mkChart([mid[0], 384, mid[1], 202], linAx(inLim[0], inLim[1], inXTicks, fmtInt, true, 5), linAx(yLim[0], yLim[1], bYTicks, fmt1, false, 6), [
    lineSet(inLineX, inLineY, '#000', false, 3.5),
    markSet(...mI, RB, 1.2),
    ...keyedLines(inX, inKeys, inn, 2).reverse(),
    lineSet(zero2, yLim, '#888', true, 0.8, [1.5, 2]),
    lineSet([1, 1], yLim, '#888', true, 0.8, [1.5, 2]),
    lineSet(inLim, zero2, '#d0d0d0', false, 1.3)
  ]);
  mkChart([right[0], 384, right[1], 202], linAx(dnLim[0], dnLim[1], dnXTicks, fmtInt, true, 5), linAx(yLim[0], yLim[1], bYTicks, fmt1, false, 6), [
    lineSet(dnX, dnBlack, '#000', false, 3.5),
    markSet(...mD, RB, 1.2),
    ...keyedLines(dnX, dnKeys, dn, 2).reverse(),
    lineSet(dnLim, zero2, '#d0d0d0', false, 1.3)
  ]);
}

bPanels([108, 180], [300, 151], [463, 180], bUp, bUpBlack, bUpKeys, bIn, bInKeys, bDn, bDnBlack, bDnKeys,
  [bUpMx, bUpMy, bUpMc, bUpMs, bUpMf], [bInMx, bInMy, bInMc, bInMs, bInMf], [bDnMx, bDnMy, bDnMc, bDnMs, bDnMf]);
bPanels([790, 179], [982, 150], [1144, 179], fUp, fUpBlack, fUpKeys, fIn, fInKeys, fDn, fDnBlack, fDnKeys,
  [fUpMx, fUpMy, fUpMc, fUpMs, fUpMf], [fInMx, fInMy, fInMc, fInMs, fInMf], [fDnMx, fDnMy, fDnMc, fDnMs, fDnMf]);

// ─── (c) (d) (g) (h) ─────────────────────────────────
const RC = { c: 6.5, d: 8, t: 8.5 };
const RD = { c: 7, d: 9, t: 9 };
const GRAY = 'rgba(0,0,0,0.10)';

mkChart([107, 732, 223, 224], logAx(3.5, 2680), logAx(2.98, 2636), [
  lineSet(cFitX, cFitY, '#000', false, 3.2),
  markSet(cX, cY, cC, cS, null, RC, 1.3),
  polySet(cTriX, cTriY, GRAY)
], { oneX: cOneX, oneY: cOneY });

mkChart([790, 732, 223, 223], logAx(3.66, 2650), logAx(3.1, 2620), [
  lineSet(gFitX, gFitY, '#000', false, 3.2),
  markSet(gX, gY, gC, gS, null, RC, 1.3),
  polySet(gTriX, gTriY, GRAY)
], { oneX: gOneX, oneY: gOneY });

mkChart([418, 732, 224, 224], logAx(324, 32500), logAx(262, 56000), [
  lineSet(dFitX, dFitY, '#000', false, 3.2),
  markSet(dX, dY, dC, dS, dF, RD, 2),
  polySet(dTriX, dTriY, GRAY),
  { data: pts(dBandX, dBandHi), showLine: true, borderWidth: 0, pointRadius: 0, fill: '+1', backgroundColor: 'rgba(0,0,0,0.08)' },
  { data: pts(dBandX, dBandLo), showLine: true, borderWidth: 0, pointRadius: 0, fill: false }
], { oneX: dOneX, oneY: dOneY });

mkChart([1102, 732, 223, 223], logAx(245, 23000), logAx(578, 76900), [
  lineSet(hFitX, hFitY, '#000', false, 3.2),
  markSet(hX, hY, hC, hS, hF, RD, 2),
  polySet(hTriX, hTriY, GRAY),
  { data: pts(hBandX, hBandHi), showLine: true, borderWidth: 0, pointRadius: 0, fill: '+1', backgroundColor: 'rgba(0,0,0,0.08)' },
  { data: pts(hBandX, hBandLo), showLine: true, borderWidth: 0, pointRadius: 0, fill: false }
], { oneX: hOneX, oneY: hOneY });

// ─── OVERLAY BOXES / LEGENDS ─────────────────────────
const fig = document.getElementById('fig');
function addHTML(html) { fig.insertAdjacentHTML('beforeend', html); }

const frac = (a, b) => `<span class="fr"><span>${a}</span><span>${b}</span></span>`;
const upTxt = `<span class="ln"></span>exp(<i>n</i><sup>${frac('1', '<i>n</i>+1')}</sup>&#8201;${frac('<i>x</i>', '[<i>x</i>]')})`;
const inTxt = `<span class="ln"></span>1 − 2${frac('<i>x</i>', '<i>ℓ</i>')}`;
const dnTxt = `<span class="ln"></span>−exp(−<i>n</i><sup>−${frac('1', '<i>n</i>+1')}</sup>&#8201;${frac('(<i>x</i>−<i>ℓ</i>)', '[<i>x</i>]')})`;
addHTML(`<div class="leg" style="left:116px;top:392px;width:119px;height:41px">${upTxt}</div>`);
addHTML(`<div class="leg" style="left:364px;top:392px;width:78px;height:34px">${inTxt}</div>`);
addHTML(`<div class="leg" style="left:466px;top:392px;width:170px;height:43px;font-size:14px">${dnTxt}</div>`);
addHTML(`<div class="leg" style="left:798px;top:392px;width:118px;height:41px">${upTxt}</div>`);
addHTML(`<div class="leg" style="left:1042px;top:392px;width:78px;height:34px">${inTxt}</div>`);
addHTML(`<div class="leg" style="left:1147px;top:392px;width:166px;height:43px;font-size:14px">${dnTxt}</div>`);

const ss = (p, m) => `<span class="ss"><span>${p}</span><span>${m}</span></span>`;
const tauMax = `max|<i class="ov">τ</i><sub><i>xx</i></sub>|`;
addHTML(`<div class="fitbox" style="left:157px;top:896px;width:172px;height:52px">${tauMax} = <i>κ</i><sub>5</sub> <i>ρgαℓ</i>/4<br><i>κ</i><sub>5</sub> = 0.93${ss('+0.04', '−0.07')}</div>`);
addHTML(`<div class="fitbox" style="left:841px;top:896px;width:168px;height:52px">${tauMax} = <i>κ</i><sub>7</sub> <i>ρgαℓ</i>/4<br><i>κ</i><sub>7</sub> = 0.94${ss('+0.03', '−0.06')}</div>`);
addHTML(`<div class="fitbox" style="left:528px;top:897px;width:110px;height:51px">DL = <i>κ</i><sub>6</sub> [<i>x</i>]<br><i>κ</i><sub>6</sub> = 1.04${ss('+0.56', '−0.06')}</div>`);
addHTML(`<div class="fitbox" style="left:1212px;top:897px;width:110px;height:51px">DL = <i>κ</i><sub>8</sub> [<i>x</i>]<br><i>κ</i><sub>8</sub> = 2.86${ss('+0.64', '−0.78')}</div>`);

// bottom legend
const legSvg = `<svg width="1165" height="28" style="position:absolute;left:0;top:0">
  <line x1="5" y1="14" x2="43" y2="14" stroke="${COL.r}" stroke-width="2.5"/><circle cx="24" cy="14" r="4.5" fill="${COL.r}"/>
  <line x1="144" y1="14" x2="181" y2="14" stroke="${COL.g}" stroke-width="2.5"/><circle cx="162" cy="14" r="4.5" fill="${COL.g}"/>
  <line x1="286" y1="14" x2="324" y2="14" stroke="${COL.b}" stroke-width="2.5"/><circle cx="305" cy="14" r="4.5" fill="${COL.b}"/>
  <line x1="433" y1="14" x2="470" y2="14" stroke="${COL.o}" stroke-width="2.5"/><circle cx="452" cy="14" r="4.5" fill="${COL.o}"/>
  <circle cx="594" cy="14" r="5" fill="#444"/>
  <polygon points="718,6 724,14 718,22 712,14" fill="#444"/>
  <polygon points="845,7 851,20 839,20" fill="#444"/>
  <line x1="954" y1="14" x2="988" y2="14" stroke="#555" stroke-width="2.5"/><circle cx="971" cy="14" r="4.5" fill="#555"/>
  <line x1="1074" y1="14" x2="1106" y2="14" stroke="#555" stroke-width="2.5" stroke-dasharray="7,3"/><circle cx="1090" cy="14" r="4.5" fill="#fff" stroke="#555" stroke-width="1.3"/>
</svg>`;
addHTML(`<div id="legend">${legSvg}</div>`);
const legTxt = [
  [166, '<i>h</i> = 300 m'], [309, '<i>h</i> = 1000 m'], [451, '<i>h</i> = 2000 m'], [594, '<i>h</i> = 3000 m'],
  [736, '<i>α</i> = 0.1°'], [864, '<i>α</i> = 0.5°'], [988, '<i>α</i> = 1.0°'], [1134, '<i>γ</i> = 0.1'], [1239, '<i>γ</i> = 0.5']
];
legTxt.forEach(([x, s]) => addHTML(`<div class="lt" style="left:${x}px">${s}</div>`));
</script>
</body>
</html>
